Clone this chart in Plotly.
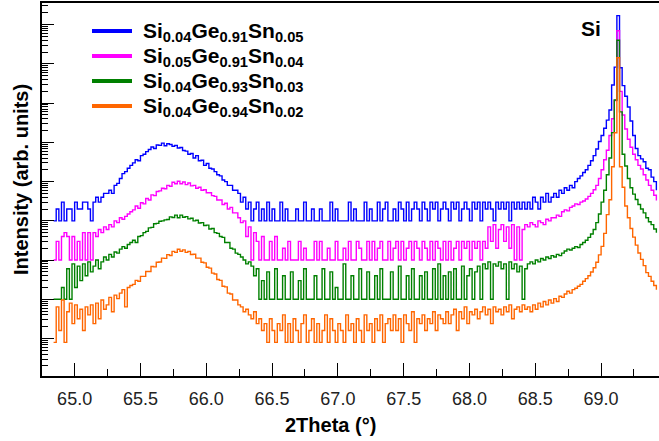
import numpy as np
import plotly.graph_objects as go

# 2theta scan grid (deg), 0.02 deg step
two_theta = np.round(64.84 + 0.02 * np.arange(230), 2)

# Counts per sample (rows of 10 points = 0.2 deg each)
counts_si04_ge91_sn05 = [
    1, 2, 1, 3, 1, 2, 2, 1, 3, 2,
    2, 3, 3, 2, 1, 3, 4, 3, 4, 5,
    5, 6, 5, 8, 9, 12, 16, 18, 22, 26,
    30, 36, 34, 46, 50, 58, 66, 76, 70, 86,
    84, 96, 82, 92, 88, 80, 84, 72, 74, 62,
    60, 50, 52, 40, 46, 34, 35, 26, 29, 22,
    21, 18, 15, 14, 11, 10, 8, 8, 6, 6,
    5, 3, 4, 2, 3, 1, 2, 3, 1, 2,
    1, 3, 1, 2, 1, 1, 3, 1, 2, 1,
    1, 1, 2, 1, 1, 3, 1, 1, 2, 1,
    1, 2, 1, 1, 1, 3, 1, 2, 1, 1,
    1, 1, 3, 1, 2, 1, 1, 1, 3, 1,
    2, 1, 1, 3, 1, 2, 3, 1, 1, 2,
    1, 3, 2, 1, 3, 1, 2, 3, 2, 1,
    3, 2, 1, 3, 2, 3, 1, 2, 3, 2,
    1, 3, 2, 3, 1, 2, 3, 2, 1, 3,
    2, 3, 1, 3, 2, 3, 2, 1, 3, 2,
    3, 2, 3, 1, 3, 2, 3, 2, 3, 2,
    3, 2, 4, 3, 2, 4, 3, 5, 3, 4,
    5, 4, 6, 5, 7, 6, 8, 7, 10, 12,
    14, 17, 20, 26, 34, 46, 68, 105, 150, 230,
    370, 670, 2900, 8300, 170000, 8000, 2800, 1500, 800, 350,
    150, 70, 46, 38, 32, 22, 20, 13, 10, 6,
]

counts_si05_ge91_sn04 = [
    1, 3, 1, 4, 5, 4, 1, 4, 1, 3,
    1, 5, 1, 5, 1, 5, 4, 6, 5, 7,
    6, 8, 7, 10, 9, 12, 11, 13, 15, 17,
    19, 24, 21, 29, 27, 37, 34, 46, 44, 56,
    58, 68, 66, 80, 76, 96, 88, 102, 88, 98,
    84, 92, 78, 80, 68, 72, 60, 62, 52, 52,
    44, 42, 34, 34, 26, 28, 20, 22, 16, 16,
    12, 9, 10, 4, 7, 1, 5, 3, 1, 4,
    1, 1, 3, 1, 4, 1, 1, 2, 1, 3,
    1, 1, 1, 3, 1, 2, 1, 1, 1, 3,
    1, 3, 1, 1, 2, 1, 1, 3, 1, 1,
    2, 1, 3, 1, 1, 3, 2, 1, 1, 3,
    1, 3, 1, 2, 3, 1, 1, 3, 1, 2,
    3, 1, 3, 1, 2, 3, 1, 3, 2, 1,
    3, 2, 1, 3, 1, 3, 2, 1, 3, 1,
    3, 1, 2, 3, 1, 3, 2, 3, 1, 3,
    2, 3, 1, 3, 2, 7, 3, 8, 2, 6,
    8, 3, 7, 2, 8, 1, 7, 1, 6, 8,
    7, 9, 8, 7, 10, 9, 8, 11, 10, 12,
    12, 14, 13, 17, 19, 18, 22, 24, 27, 26,
    30, 32, 36, 42, 50, 62, 80, 120, 200, 360,
    630, 1500, 4000, 11700, 700000, 20000, 5000, 2200, 1200, 750,
    500, 360, 260, 210, 150, 110, 80, 60, 45, 33,
]

counts_si04_ge93_sn03 = [
    1, 1, 1, 2, 1, 6, 1, 8, 2, 7,
    3, 8, 4, 9, 5, 7, 10, 6, 9, 12,
    10, 14, 12, 16, 15, 19, 22, 20, 25, 28,
    32, 28, 40, 42, 50, 54, 66, 68, 84, 86,
    98, 100, 106, 108, 126, 122, 140, 120, 140, 124,
    128, 112, 116, 100, 104, 88, 90, 76, 78, 62,
    64, 50, 48, 40, 38, 28, 28, 20, 19, 15,
    14, 12, 10, 8, 9, 7, 4, 6, 1, 3,
    1, 5, 1, 1, 6, 1, 1, 4, 1, 1,
    5, 1, 1, 3, 1, 6, 1, 1, 1, 4,
    1, 1, 6, 1, 1, 5, 1, 2, 1, 1,
    8, 1, 1, 4, 1, 1, 6, 1, 1, 5,
    1, 1, 4, 1, 6, 1, 1, 1, 5, 1,
    1, 7, 1, 1, 4, 1, 6, 1, 1, 4,
    1, 5, 1, 1, 6, 1, 8, 1, 4, 1,
    5, 1, 6, 1, 1, 7, 1, 4, 6, 1,
    5, 7, 1, 8, 6, 9, 1, 8, 7, 9,
    6, 8, 1, 9, 6, 8, 5, 7, 1, 6,
    8, 9, 8, 10, 9, 11, 10, 12, 11, 13,
    12, 14, 13, 15, 17, 19, 18, 20, 22, 21,
    25, 28, 32, 38, 46, 60, 90, 150, 300, 600,
    1500, 4000, 17700, 120000, 4000000, 60000, 5000, 2500, 1200, 700,
    480, 350, 260, 200, 160, 120, 95, 80, 62, 50,
]

counts_si04_ge94_sn02 = [
    1, 8, 2, 12, 1, 6, 10, 3, 9, 4,
    7, 2, 8, 5, 9, 3, 10, 4, 12, 7,
    9, 14, 6, 16, 13, 18, 22, 8, 25, 28,
    30, 38, 36, 48, 48, 64, 64, 86, 84, 110,
    112, 140, 138, 172, 164, 208, 196, 236, 210, 228,
    196, 208, 174, 176, 140, 140, 110, 106, 82, 78,
    58, 55, 40, 38, 27, 26, 18, 17, 12, 12,
    9, 8, 6, 7, 5, 4, 6, 3, 4, 2,
    3, 1, 4, 2, 1, 3, 2, 5, 1, 3,
    1, 4, 2, 1, 3, 5, 1, 2, 4, 1,
    3, 1, 2, 5, 1, 4, 2, 1, 3, 2,
    1, 5, 2, 3, 1, 4, 2, 1, 5, 2,
    3, 1, 4, 2, 5, 1, 3, 4, 2, 5,
    2, 4, 1, 5, 3, 2, 6, 1, 4, 3,
    5, 2, 4, 3, 6, 2, 5, 4, 3, 6,
    3, 5, 7, 2, 6, 4, 8, 3, 6, 5,
    7, 4, 6, 8, 5, 7, 3, 8, 6, 7,
    5, 8, 6, 9, 4, 7, 8, 6, 9, 7,
    8, 6, 9, 7, 10, 8, 11, 9, 12, 10,
    13, 11, 15, 14, 17, 20, 18, 22, 24, 27,
    30, 36, 42, 50, 62, 80, 110, 170, 280, 600,
    1800, 4300, 30000, 220000, 18000000, 30000, 9000, 3000, 1500, 800,
    480, 300, 190, 130, 90, 60, 48, 36, 28, 22,
]

sample_labels = [
    "Si<sub>0.04</sub>Ge<sub>0.91</sub>Sn<sub>0.05</sub>",
    "Si<sub>0.05</sub>Ge<sub>0.91</sub>Sn<sub>0.04</sub>",
    "Si<sub>0.04</sub>Ge<sub>0.93</sub>Sn<sub>0.03</sub>",
    "Si<sub>0.04</sub>Ge<sub>0.94</sub>Sn<sub>0.02</sub>",
]
sample_counts = [
    counts_si04_ge91_sn05,
    counts_si05_ge91_sn04,
    counts_si04_ge93_sn03,
    counts_si04_ge94_sn02,
]
# vertical stacking factors on the log axis
stack_factors = [1000, 100, 10, 0.8]
colors = ["#0000ff", "#ff00ff", "#008000", "#ff6600"]

x_ticks = [65.0, 65.5, 66.0, 66.5, 67.0, 67.5, 68.0, 68.5, 69.0]

FONT = "Arial, Liberation Sans, sans-serif"

# plot-area geometry in pixels, used to place the key
W, H = 659, 441
ML, MR, MT, MB = 42, 0, 3, 65
PW, PH = W - ML - MR, H - MT - MB


def px_to_paper(px, py):
    return (px - ML) / PW, 1 - (py - MT) / PH


fig = go.Figure()

for label, counts, factor, color in zip(sample_labels, sample_counts,
                                         stack_factors, colors):
    fig.add_trace(go.Scatter(
        x=two_theta, y=np.array(counts, dtype=float) * factor,
        mode="lines", line=dict(color=color, width=1.4, shape="hv"),
        name=label, showlegend=False, hoverinfo="skip",
    ))

# key: thick line sample + label per sample
for i, (label, color) in enumerate(zip(sample_labels, colors)):
    row_y = 31 + 25 * i
    x0, y0 = px_to_paper(92, row_y)
    x1, _ = px_to_paper(132, row_y)
    fig.add_shape(type="line", xref="paper", yref="paper",
                  x0=x0, x1=x1, y0=y0, y1=y0,
                  line=dict(color=color, width=4))
    tx, ty = px_to_paper(141, row_y + 1)
    fig.add_annotation(
        x=tx, y=ty, xref="paper", yref="paper", text=f"<b>{label}</b>",
        showarrow=False, xanchor="left", yanchor="middle",
        font=dict(family=FONT, size=21, color="black"),
    )

sx, sy = px_to_paper(591, 28)
fig.add_annotation(
    x=sx, y=sy, xref="paper", yref="paper", text="<b>Si</b>",
    showarrow=False, xanchor="center", yanchor="middle",
    font=dict(family=FONT, size=21, color="black"),
)
tx, ty = px_to_paper(330, 425)
fig.add_annotation(
    x=tx, y=ty, xref="paper", yref="paper", text="<b>2Theta (°)</b>",
    showarrow=False, font=dict(family=FONT, size=20, color="black"),
    xanchor="center", yanchor="middle",
)
tx, ty = px_to_paper(21, 180)
fig.add_annotation(
    x=tx, y=ty, xref="paper", yref="paper",
    text="<b>Intensity (arb. units)</b>", textangle=-90,
    showarrow=False, font=dict(family=FONT, size=20, color="black"),
    xanchor="center", yanchor="middle",
)

fig.update_layout(
    width=W, height=H,
    margin=dict(l=ML, r=MR, t=MT, b=MB),
    paper_bgcolor="white", plot_bgcolor="white",
    font=dict(family=FONT, color="black"),
    showlegend=False,
    xaxis=dict(
        range=[64.752, 69.44], tickvals=x_ticks,
        ticktext=[f"{v:.1f}" for v in x_ticks],
        ticks="inside", ticklen=13, tickwidth=1.3, tickcolor="black",
        minor=dict(ticks="inside", ticklen=7, tickwidth=1.2, dtick=0.25,
                   tickcolor="black"),
        showline=True, linecolor="black", linewidth=1.5, mirror=True,
        showgrid=False, zeroline=False, ticklabelstandoff=6,
        tickfont=dict(family=FONT, size=18, color="#222"),
    ),
    yaxis=dict(
        type="log", range=[-0.955, 8.553], dtick=1,
        ticks="inside", ticklen=12, tickwidth=1.3, tickcolor="black",
        minor=dict(ticks="inside", ticklen=6, tickwidth=1.0, dtick="D1",
                   tickcolor="black"),
        showticklabels=False,
        showline=True, linecolor="black", linewidth=1.5, mirror=False,
        showgrid=False, zeroline=False,
    ),
)

fig.write_html("out.html")
